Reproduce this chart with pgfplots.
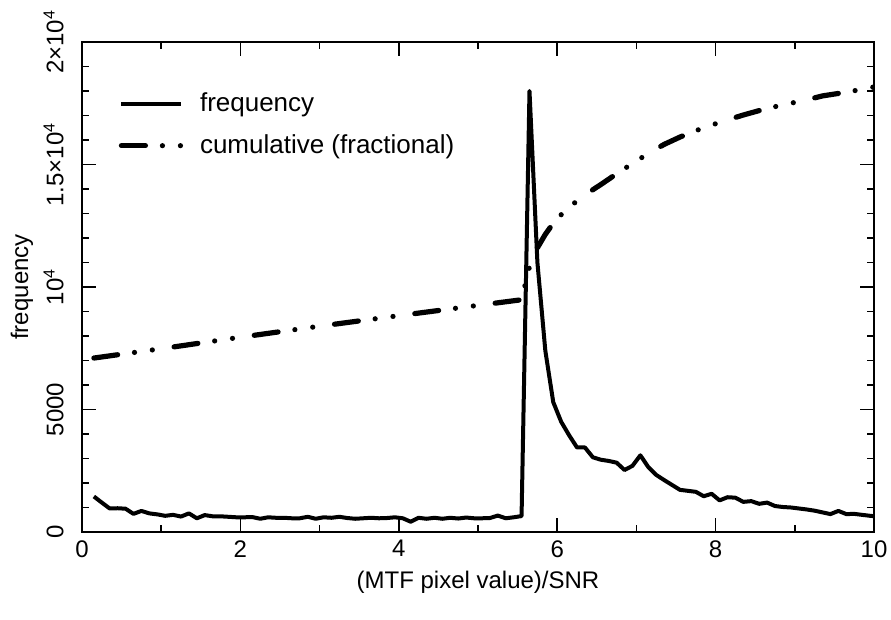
\documentclass[border=0pt]{standalone}
\usepackage{fontspec}
\setmainfont{Liberation Sans}
\usepackage{pgfplots}
\pgfplotsset{compat=1.18}
\usetikzlibrary{calc}

\pgfplotstableread{
x y
0.15 1450
0.25 1200
0.35 960
0.45 970
0.55 950
0.65 740
0.75 860
0.85 760
0.95 720
1.05 660
1.15 700
1.25 630
1.35 760
1.45 560
1.55 690
1.65 640
1.75 640
1.85 620
1.95 600
2.05 600
2.15 610
2.25 540
2.35 600
2.45 580
2.55 580
2.65 560
2.75 560
2.85 620
2.95 540
3.05 600
3.15 580
3.25 620
3.35 570
3.45 540
3.55 560
3.65 580
3.75 560
3.85 570
3.95 600
4.05 560
4.15 420
4.25 580
4.35 540
4.45 580
4.55 540
4.65 580
4.75 550
4.85 590
4.95 560
5.05 560
5.15 570
5.25 670
5.35 560
5.45 600
5.55 650
5.65 18000
5.75 11000
5.85 7400
5.95 5300
6.05 4500
6.15 3950
6.25 3450
6.35 3450
6.45 3050
6.55 2950
6.65 2900
6.75 2830
6.85 2530
6.95 2700
7.05 3130
7.15 2650
7.25 2330
7.35 2120
7.45 1920
7.55 1720
7.65 1680
7.75 1640
7.85 1460
7.95 1560
8.05 1290
8.15 1420
8.25 1400
8.35 1230
8.45 1260
8.55 1150
8.65 1200
8.75 1060
8.85 1020
8.95 1000
9.05 960
9.15 920
9.25 870
9.35 800
9.45 730
9.55 860
9.65 730
9.75 740
9.85 700
9.95 660
10.05 630
}\freqdata

\pgfplotstableread{
x y
0.15 7100
1.00 7480
2.00 7950
3.00 8400
4.00 8830
5.00 9250
5.55 9480
5.65 10830
5.75 11600
5.85 12150
5.95 12600
6.05 12950
6.15 13260
6.35 13760
6.55 14180
6.75 14620
6.95 15040
7.15 15450
7.35 15820
7.55 16120
7.75 16380
7.95 16610
8.15 16820
8.35 17020
8.55 17200
8.75 17360
8.95 17500
9.15 17640
9.35 17800
9.55 17900
9.75 18010
9.95 18130
10.05 18200
}\cumdata

\begin{document}
\begin{tikzpicture}
\begin{axis}[
  scale only axis, width=396pt, height=245pt,
  xmin=0, xmax=10, ymin=0, ymax=20000,
  clip=true,
  xtick={0,2,4,6,8,10}, xticklabels={0,2,4,6,8,10},
  minor xtick={1,3,5,7,9},
  ytick={0,5000,10000,15000,20000},
  yticklabels={0,5000,10\textsuperscript{4},1.5×10\textsuperscript{4},2×10\textsuperscript{4}},
  minor ytick={1000,2000,3000,4000,6000,7000,8000,9000,11000,12000,13000,14000,16000,17000,18000,19000},
  scaled y ticks=false,
  tick align=inside,
  major tick length=7pt, minor tick length=3.5pt,
  every tick/.style={black, line width=0.8pt},
  axis line style={line width=1pt},
  font=\fontsize{12}{14}\selectfont,
  yticklabel style={rotate=90, anchor=south, inner sep=0pt},
  yticklabel shift=9pt,
  xticklabel style={inner sep=0pt},
  xticklabel shift=4pt,
  xlabel={(MTF pixel value)/SNR},
  ylabel={frequency},
  xlabel style={at={(axis description cs:0.5,-0.102)}, anchor=center},
  ylabel style={at={(axis description cs:-0.0758,0.5)}, anchor=center, rotate=0},
  legend style={draw=none, fill=none, at={(0.046,0.905)}, anchor=north west,
    font=\fontsize{13}{15}\selectfont, row sep=6pt, column sep=6pt, inner sep=0pt},
  legend cell align=left,
  legend image code/.code={\draw[#1] (0pt,0pt) -- (30pt,0pt);},
]
\addplot[black, line width=2pt, line join=round] table[x=x,y=y] {\freqdata};
\addlegendentry{frequency}
\addplot[black, line width=2.6pt, line cap=round, line join=round,
  dash pattern=on 12pt off 8.5pt on 0pt off 9pt on 0pt off 11pt] table[x=x,y=y] {\cumdata};
\addlegendentry{cumulative (fractional)}
\end{axis}
\pgfresetboundingbox
\path ($(current axis.south west)+(-41pt,-43.5pt)$) rectangle ($(current axis.north east)+(8.5pt,21pt)$);
\end{tikzpicture}
\end{document}
